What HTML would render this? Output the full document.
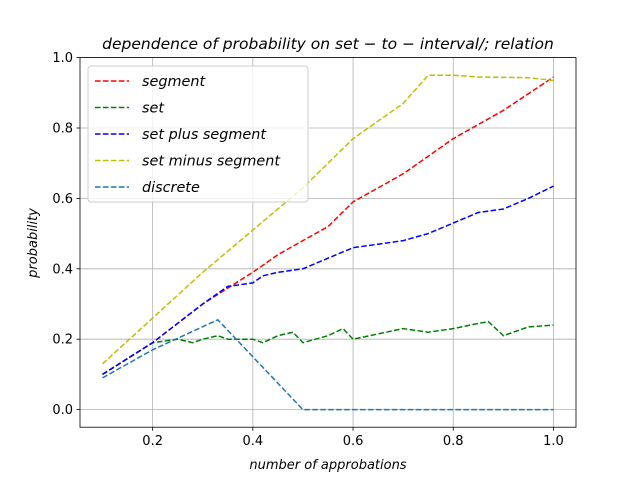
<!DOCTYPE html>
<html><head><meta charset="utf-8"><style>body{margin:0;background:#fff}svg text{font-family:"DejaVu Sans","Liberation Sans",sans-serif}</style></head>
<body>
<svg id="chart" width="640" height="480" xmlns="http://www.w3.org/2000/svg">
<rect width="640" height="480" fill="#fff"/>
<g id="grid"></g><g id="series"></g><g id="axes"></g>
<text x="328" y="49" font-size="15.5" text-anchor="middle" font-style="italic">dependence of probability on set − to − interval/; relation</text>
<text x="328" y="469" font-size="13" text-anchor="middle" font-style="italic">number of approbations</text>
<text transform="translate(37,243) rotate(-90)" font-size="13" text-anchor="middle" font-style="italic">probability</text>
<g id="legend"></g>
</svg>
<script>
const xTicks=[0.2,0.4,0.6,0.8,1.0];
const yTicks=[0.0,0.2,0.4,0.6,0.8,1.0];
const seriesNames=["segment","set","set plus segment","set minus segment","discrete"];
const seriesColors=["#ff0000","#008000","#0000ff","#bfbf00","#1f77b4"];
const segX=[0.1,0.2,0.3,0.4,0.45,0.5,0.55,0.6,0.7,0.8,0.9,1.0];
const segY=[0.10,0.19,0.30,0.39,0.44,0.48,0.52,0.59,0.67,0.77,0.85,0.945];
const setX=[0.1,0.2,0.25,0.28,0.3,0.33,0.35,0.38,0.4,0.42,0.45,0.48,0.5,0.55,0.58,0.6,0.65,0.7,0.75,0.8,0.85,0.87,0.9,0.95,1.0];
const setY=[0.10,0.19,0.20,0.19,0.20,0.21,0.20,0.20,0.20,0.19,0.21,0.22,0.19,0.21,0.23,0.20,0.215,0.23,0.22,0.23,0.245,0.25,0.21,0.235,0.24];
const plusX=[0.1,0.2,0.3,0.35,0.4,0.42,0.45,0.5,0.55,0.6,0.65,0.7,0.75,0.8,0.85,0.9,0.95,1.0];
const plusY=[0.10,0.19,0.30,0.35,0.36,0.38,0.39,0.40,0.43,0.46,0.47,0.48,0.50,0.53,0.56,0.57,0.60,0.635];
const minusX=[0.1,0.2,0.3,0.4,0.5,0.6,0.7,0.75,0.8,0.85,0.95,1.0];
const minusY=[0.13,0.26,0.39,0.51,0.63,0.77,0.87,0.95,0.95,0.945,0.943,0.935];
const discX=[0.1,0.2,0.33,0.5,1.0];
const discY=[0.09,0.17,0.255,0.0,0.0];
const L=80,R=576,T=57.6,B=427.2,x0=0.055,x1=1.045,y0=-0.05,y1=1.0;
const sx=v=>L+(v-x0)/(x1-x0)*(R-L), sy=v=>B-(v-y0)/(y1-y0)*(B-T);
const NS="http://www.w3.org/2000/svg";
function mk(tag,attrs,parent){const e=document.createElementNS(NS,tag);for(const k in attrs)e.setAttribute(k,attrs[k]);parent.appendChild(e);return e;}
const grid=document.getElementById('grid'),axes=document.getElementById('axes'),ser=document.getElementById('series');
xTicks.forEach(v=>{const X=sx(v);
 const g=mk('line',{x1:X,x2:X,y1:T,y2:B,stroke:'#b0b0b0','stroke-width':0.8},grid);
 
 
 mk('line',{x1:X,x2:X,y1:B,y2:B+3.5,stroke:'#000','stroke-width':0.8},axes);
 const t=mk('text',{x:X,y:B+18,'font-size':13,'text-anchor':'middle'},axes);t.textContent=v.toFixed(1);
 
 });
yTicks.forEach(v=>{const Y=sy(v);
 const g=mk('line',{x1:L,x2:R,y1:Y,y2:Y,stroke:'#b0b0b0','stroke-width':0.8},grid);
 
 
 mk('line',{x1:L-3.5,x2:L,y1:Y,y2:Y,stroke:'#000','stroke-width':0.8},axes);
 const t=mk('text',{x:L-7,y:Y+4.5,'font-size':13,'text-anchor':'end'},axes);t.textContent=v.toFixed(1);
 
 });
const fr=mk('rect',{x:L,y:T,width:R-L,height:B-T,fill:'none',stroke:'#000','stroke-width':0.8},axes);


const data=[[segX,segY],[setX,setY],[plusX,plusY],[minusX,minusY],[discX,discY]];
data.forEach((d,i)=>{const pts=d[0].map((x,j)=>sx(x).toFixed(1)+','+sy(d[1][j]).toFixed(1)).join(' ');
 const p=mk('polyline',{points:pts,fill:'none',stroke:seriesColors[i],'stroke-width':1.5,'stroke-dasharray':'5.55 2.4'},ser);
 
 });
const lg=document.getElementById('legend');
mk('rect',{x:88,y:66,width:220,height:136,rx:3,fill:'#fff','fill-opacity':0.8,stroke:'#ccc','stroke-width':1},lg);
seriesNames.forEach((n,i)=>{const Y=81+i*26.5;
 mk('line',{x1:95,x2:129,y1:Y,y2:Y,stroke:seriesColors[i],'stroke-width':1.5,'stroke-dasharray':'5.55 2.4'},lg);
 const t=mk('text',{x:142,y:Y+5,'font-size':14.4,'font-style':'italic'},lg);t.textContent=n;
 
 });
</script>
</body></html>
